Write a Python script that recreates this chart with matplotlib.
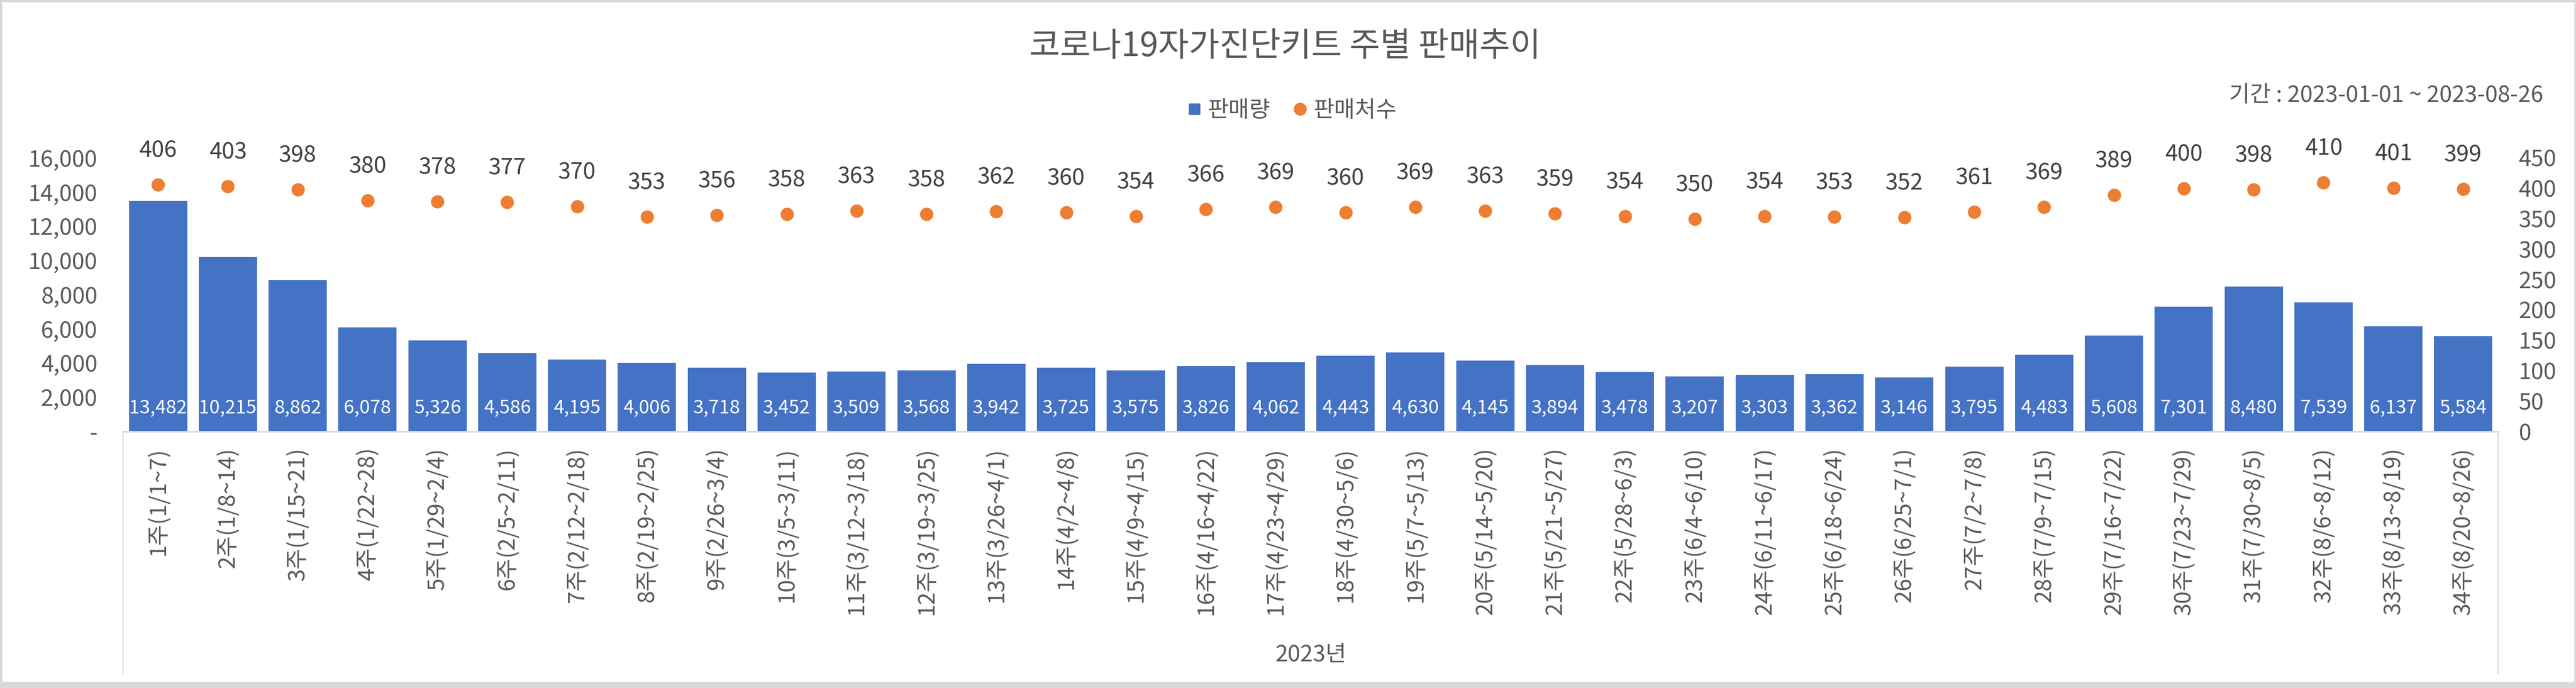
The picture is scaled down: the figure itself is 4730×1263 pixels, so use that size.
import numpy as np
import matplotlib
matplotlib.use("Agg")
from matplotlib import pyplot as plt
from matplotlib.lines import Line2D
from matplotlib.patches import Rectangle

plt.rcParams['font.family'] = ['Noto Sans CJK KR', 'DejaVu Sans']

# 데이터
weeks = ["1주(1/1~7)", "2주(1/8~14)", "3주(1/15~21)", "4주(1/22~28)", "5주(1/29~2/4)",
         "6주(2/5~2/11)", "7주(2/12~2/18)", "8주(2/19~2/25)", "9주(2/26~3/4)", "10주(3/5~3/11)",
         "11주(3/12~3/18)", "12주(3/19~3/25)", "13주(3/26~4/1)", "14주(4/2~4/8)", "15주(4/9~4/15)",
         "16주(4/16~4/22)", "17주(4/23~4/29)", "18주(4/30~5/6)", "19주(5/7~5/13)", "20주(5/14~5/20)",
         "21주(5/21~5/27)", "22주(5/28~6/3)", "23주(6/4~6/10)", "24주(6/11~6/17)", "25주(6/18~6/24)",
         "26주(6/25~7/1)", "27주(7/2~7/8)", "28주(7/9~7/15)", "29주(7/16~7/22)", "30주(7/23~7/29)",
         "31주(7/30~8/5)", "32주(8/6~8/12)", "33주(8/13~8/19)", "34주(8/20~8/26)"]
sales = [13482, 10215, 8862, 6078, 5326, 4586, 4195, 4006, 3718, 3452,
         3509, 3568, 3942, 3725, 3575, 3826, 4062, 4443, 4630, 4145,
         3894, 3478, 3207, 3303, 3362, 3146, 3795, 4483, 5608, 7301,
         8480, 7539, 6137, 5584]
stores = [406, 403, 398, 380, 378, 377, 370, 353, 356, 358,
          363, 358, 362, 360, 354, 366, 369, 360, 369, 363,
          359, 354, 350, 354, 353, 352, 361, 369, 389, 400,
          398, 410, 401, 399]
left_ticks = [0, 2000, 4000, 6000, 8000, 10000, 12000, 14000, 16000]
right_ticks = [0, 50, 100, 150, 200, 250, 300, 350, 400, 450]
group_label = "2023년"
title = "코로나19자가진단키트 주별 판매추이"
period = "기간 : 2023-01-01 ~ 2023-08-26"

BLUE = '#4472C4'
ORANGE = '#ED7D31'
GRAY = '#595959'
LINE = '#D9D9D9'

W, H = 4730, 1263
fig = plt.figure(figsize=(W / 100, H / 100), dpi=100)
ax = fig.add_axes([226 / W, 1 - 792 / H, (4587 - 226) / W, 502 / H])
ax2 = ax.twinx()

x = np.arange(len(weeks))
ax.bar(x, sales, width=0.834, color=BLUE, zorder=2)
ax.set_xlim(-0.5, len(weeks) - 0.5)
ax.set_ylim(0, 16000)
ax.set_yticks(left_ticks)
ax.set_yticklabels(["-" if v == 0 else f"{v:,}" for v in left_ticks])
ax.set_xticks(x)
ax.set_xticklabels(weeks, rotation=90)
ax.tick_params(axis='x', length=0, pad=21, labelsize=30, labelcolor=GRAY)
ax.tick_params(axis='y', length=0, pad=34, labelsize=30, labelcolor=GRAY)

# 막대 값 (안쪽 아래)
for i, v in enumerate(sales):
    ax.annotate(f"{v:,}", (x[i], 0), xytext=(0, 31), textcoords='offset points',
                ha='center', va='center', color='white', fontsize=25, zorder=3)

ax2.scatter(x, stores, s=275, color=ORANGE, zorder=3, clip_on=False)
ax2.set_ylim(0, 450)
ax2.set_yticks(right_ticks)
ax2.tick_params(axis='y', length=0, pad=27, labelsize=30, labelcolor=GRAY)
for i, v in enumerate(stores):
    ax2.annotate(str(v), (x[i], v), xytext=(0, 44.6), textcoords='offset points',
                 ha='center', va='center', color='#404040', fontsize=30,
                 annotation_clip=False)

for a in (ax, ax2):
    for s in ('top', 'left', 'right'):
        a.spines[s].set_visible(False)
    a.spines['bottom'].set_visible(False)
    a.patch.set_visible(False)
ax.set_zorder(1)
ax2.set_zorder(2)

# 축선 + 다중 범주 구분선
ax.plot([0, 1], [0, 0], transform=ax.transAxes, color=LINE, lw=2.2, clip_on=False, zorder=4)
for xx in (0, 1):
    ax.plot([xx, xx], [0, -(1237 - 792) / 502], transform=ax.transAxes,
            color=LINE, lw=1.5, clip_on=False)

fig.text(2407 / W, 1 - 1203 / H, group_label, ha='center', va='center', fontsize=30, color=GRAY)
fig.text(2360 / W, 1 - 86 / H, title, ha='center', va='center', fontsize=44, color=GRAY)
fig.text(4670 / W, 1 - 175 / H, period, ha='right', va='center', fontsize=30, color=GRAY)

handles = [Line2D([], [], marker='s', ls='', color=BLUE, markersize=14.4),
           Line2D([], [], marker='o', ls='', color=ORANGE, markersize=16)]
leg = fig.legend(handles, ["판매량", "판매처수"], loc='center', bbox_to_anchor=(2373 / W, 1 - 203 / H),
                 ncol=2, frameon=False, fontsize=30, handlelength=0.6, handletextpad=0.3,
                 columnspacing=1.0, labelcolor=GRAY)

# 테두리
for r in [(0, 0, W, 11), (0, H - 3, W, 3), (0, 0, 3, H), (W - 3, 0, 3, H)]:
    fig.patches.append(Rectangle((r[0] / W, r[1] / H), r[2] / W, r[3] / H,
                                 transform=fig.transFigure, color=LINE, zorder=0))

fig.savefig("out.png", dpi=100, facecolor='white')
